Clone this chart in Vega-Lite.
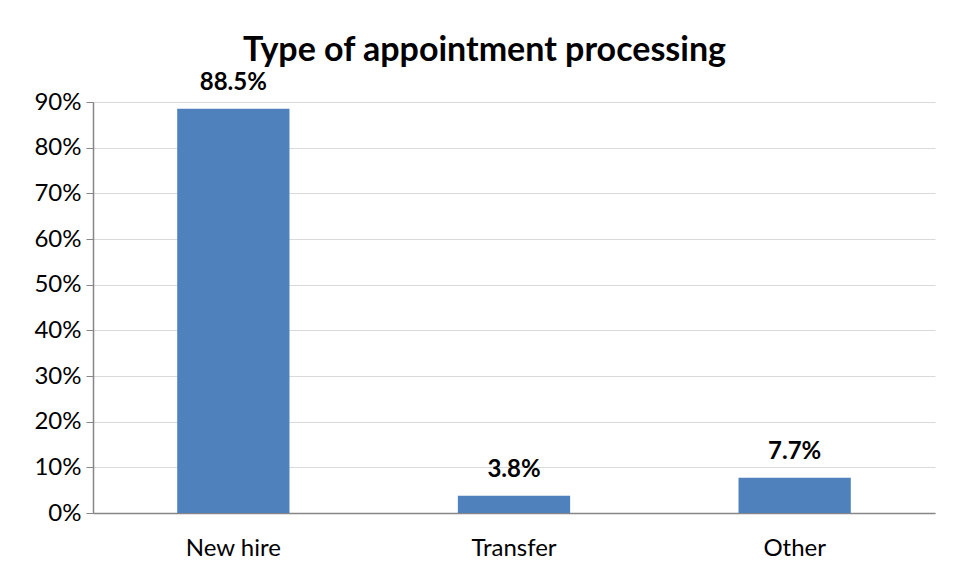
{
  "$schema": "https://vega.github.io/schema/vega-lite/v6.json",
  "width": 842,
  "height": 411,
  "autosize": {"type": "none"},
  "padding": {"left": 93, "top": 102, "right": 22, "bottom": 65},
  "background": "white",
  "title": {
    "text": "Type of appointment processing",
    "font": "Lato",
    "fontSize": 34,
    "fontWeight": "bold",
    "color": "black",
    "anchor": "middle",
    "frame": "bounds",
    "offset": 3
  },
  "config": {
    "view": {"stroke": null},
    "font": "Lato"
  },
  "data": {
    "values": [
      {"type": "New hire", "pct": 0.885},
      {"type": "Transfer", "pct": 0.038},
      {"type": "Other", "pct": 0.077}
    ]
  },
  "encoding": {
    "x": {
      "field": "type",
      "type": "nominal",
      "sort": null,
      "scale": {"paddingInner": 0.6, "paddingOuter": 0.3},
      "axis": {
        "title": null,
        "labelAngle": 0,
        "labelFontSize": 24,
        "labelColor": "black",
        "labelFont": "Lato",
        "labelPadding": 23,
        "domainColor": "#868686",
        "domainWidth": 1.5,
        "ticks": false
      }
    },
    "y": {
      "field": "pct",
      "type": "quantitative",
      "scale": {"domain": [0, 0.9], "nice": false},
      "axis": {
        "title": null,
        "format": ".0%",
        "values": [0, 0.1, 0.2, 0.3, 0.4, 0.5, 0.6, 0.7, 0.8, 0.9],
        "labelFontSize": 24,
        "labelColor": "black",
        "labelFont": "Lato",
        "labelPadding": 5,
        "domainColor": "#868686",
        "domainWidth": 1.5,
        "tickColor": "#868686",
        "tickSize": 7,
        "gridColor": "#d9d9d9",
        "gridWidth": 1.2
      }
    }
  },
  "layer": [
    {"mark": {"type": "bar", "color": "#4f81bd"}},
    {
      "mark": {"type": "text", "baseline": "alphabetic", "dy": -19, "fontSize": 24, "fontWeight": "bold", "font": "Lato", "color": "black"},
      "encoding": {"text": {"field": "pct", "type": "quantitative", "format": ".1%"}}
    }
  ]
}
